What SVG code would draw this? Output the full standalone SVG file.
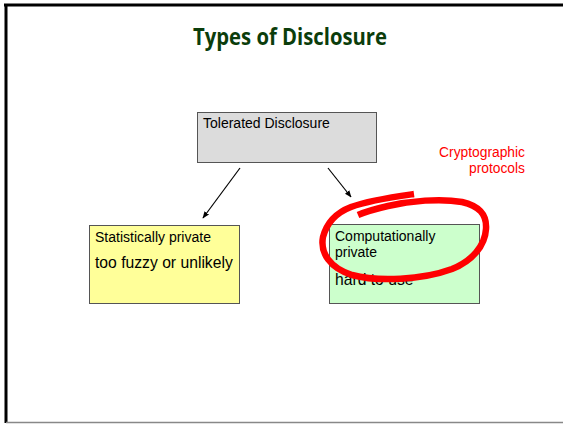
<svg xmlns="http://www.w3.org/2000/svg" width="563" height="424" viewBox="0 0 563 424">
  <style>
    .box { stroke: #555; stroke-width: 1; }
    .lbl { font-family: "Liberation Sans", Arial, sans-serif; fill: #000; }
    .small { font-size: 14px; }
    .big { font-size: 15.7px; }
    .conn { stroke: #000; stroke-width: 1.2; fill: none; marker-end: url(#arrow); }
  </style>
  <defs>
    <marker id="arrow" viewBox="0 0 10 10" refX="9" refY="5" markerWidth="7" markerHeight="7" orient="auto" markerUnits="userSpaceOnUse">
      <path d="M0,1 L10,5 L0,9 Z" fill="#000"/>
    </marker>
  </defs>

  <rect width="563" height="424" fill="#fff"/>
  <!-- slide frame -->
  <line x1="4" y1="5" x2="563" y2="5" stroke="#000" stroke-width="3"/>
  <line x1="6" y1="4" x2="6" y2="423" stroke="#000" stroke-width="3"/>
  <line x1="6" y1="422.5" x2="563" y2="422.5" stroke="#888" stroke-width="1.5"/>

  <text x="290" y="45" text-anchor="middle" font-family="'Open Sans', 'Liberation Sans', sans-serif" font-weight="bold" font-size="24" fill="#0b3d0b" textLength="194" lengthAdjust="spacingAndGlyphs">Types of Disclosure</text>

  <g id="tolerated">
    <rect class="box" x="197.5" y="112.5" width="179" height="50" fill="#dcdcdc"/>
    <text class="lbl small" x="203" y="128">Tolerated Disclosure</text>
  </g>

  <g id="statistical">
    <rect class="box" x="89.5" y="225.5" width="150" height="78" fill="#ffff99"/>
    <text class="lbl small" x="95" y="242">Statistically private</text>
    <text class="lbl big" x="95" y="268">too fuzzy or unlikely</text>
  </g>

  <g id="computational">
    <rect class="box" x="329.5" y="224.5" width="150" height="79" fill="#ccffcc"/>
    <text class="lbl small" x="335" y="241">Computationally</text>
    <text class="lbl small" x="335" y="257">private</text>
    <text class="lbl big" x="335" y="285">hard to use</text>
  </g>

  <g id="crypto-note">
    <text x="525" y="157" text-anchor="end" font-family="'Liberation Sans', Arial, sans-serif" font-size="13.8" fill="#ff0000">Cryptographic</text>
    <text x="525" y="173" text-anchor="end" font-family="'Liberation Sans', Arial, sans-serif" font-size="13.8" fill="#ff0000">protocols</text>
  </g>

  <g id="connectors">
    <line class="conn" x1="240" y1="168" x2="203" y2="218"/>
    <line class="conn" x1="328" y1="168" x2="351" y2="197"/>
  </g>

  <!-- hand-drawn highlight -->
  <path d="M414,194 C400,196 370,200 351,207 C338,212 327,222 323,237 C320,253 330,268 352,275 C378,282 422,280 452,269 C472,261 485,246 486,229 C487,214 479,206 462,202 C440,198 410,201 388,206 C375,209 365,212 358,215" fill="none" stroke="#ff0000" stroke-width="6.5" stroke-linecap="butt" stroke-linejoin="round"/>
</svg>
